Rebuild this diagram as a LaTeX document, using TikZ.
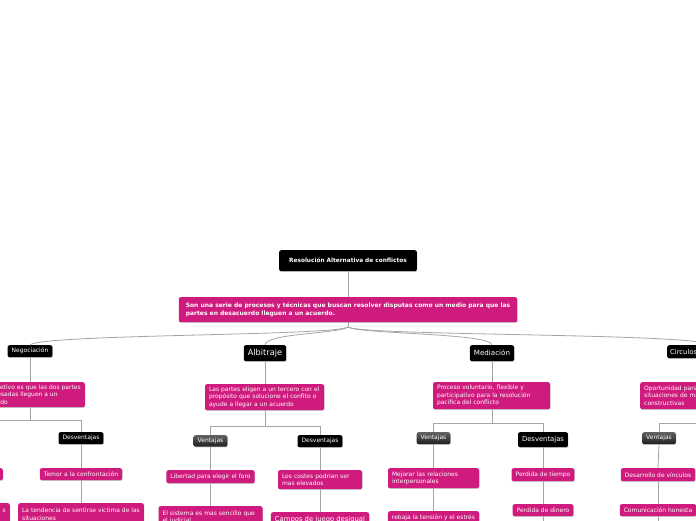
\documentclass[tikz,border=0pt]{standalone}
\usepackage{fontspec}
\setmainfont{DejaVu Sans}
\usetikzlibrary{shadows}
\definecolor{pinkc}{RGB}{206,27,125}
\definecolor{linec}{RGB}{165,165,165}
\newcommand\fpink{\fontsize{6.0}{7.6}\selectfont}
\newcommand\fpinkb{\fontsize{6.0}{8.6}\selectfont\bfseries}
\newcommand\froot{\fontsize{5.8}{7}\selectfont\bfseries}
\newcommand\flab{\fontsize{6.0}{7}\selectfont}
\newcommand\falb{\fontsize{8.2}{9}\selectfont}
\newcommand\fmed{\fontsize{7.1}{8}\selectfont}
\newcommand\fmid{\fontsize{6.8}{8}\selectfont}
\begin{document}
\begin{tikzpicture}[x=1pt,y=-1pt,
  boxbase/.style={rounded corners=2pt, inner xsep=4pt, inner ysep=0pt,
    drop shadow={shadow xshift=0.5pt, shadow yshift=-0.7pt, fill=black, opacity=0.2}},
  pinkbox/.style={boxbase, fill=pinkc, text=white, font=\fpink, align=left, anchor=north},
  blackbox/.style={boxbase, fill=black, text=white, font=\flab, align=center, anchor=north},
  graybox/.style={boxbase, top color=black!62, bottom color=black!88, text=white, font=\flab, align=center, anchor=north},
  conn/.style={draw=linec, line width=0.8pt}]
\useasboundingbox (0,0) rectangle (696,520);
\clip (0,0) rectangle (696,520);
\fill[white] (0,0) rectangle (696,520);

% root and main
\node[blackbox, font=\froot, minimum height=21, inner xsep=10pt] (root) at (348,250) {Resolución Alternativa de conflictos};
\node[pinkbox, font=\fpinkb, minimum height=25, inner xsep=7pt] (main) at (348,297) {Son una serie de procesos y técnicas que buscan resolver disputas como un medio para que las\\partes en desacuerdo lleguen a un acuerdo.};
\draw[conn] (root.south) -- (main.north);
\coordinate (hub) at (348,327);
\draw[conn] (main.south) -- (hub);

% level 1
\node[blackbox, minimum height=12] (neg) at (30,345) {Negociación};
\node[blackbox, font=\falb, minimum height=16] (alb) at (265,345) {Albitraje};
\node[blackbox, font=\fmed, minimum height=16] (med) at (492,345) {Mediación};
\node[blackbox, font=\fmid, minimum height=13, anchor=north west, text width=80, align=left, inner xsep=3pt] (cir) at (667,345) {Circulos};

\draw[conn] (hub) .. controls (335,336) and (40,334) .. (neg.north);
\draw[conn] (hub) .. controls (338,334) and (266,333) .. (alb.north);
\draw[conn] (hub) .. controls (358,334) and (491,333) .. (med.north);
\draw[conn] (hub) .. controls (362,336) and (700,333) .. (cir.north);

% Negociacion
\node[pinkbox, anchor=north east, minimum height=25] (negp) at (85,382) {El objetivo es que las dos partes\\interesadas lleguen a un\\acuerdo};
\draw[conn] (neg.south) -- (neg.south |- negp.north);
\coordinate (negs) at (30,420);
\draw[conn] (neg.south |- negp.south) -- (negs);
\coordinate (negv) at (-30,432);
\node[blackbox, minimum height=12] (negd) at (81,432) {Desventajas};
\draw[conn] (negs) -| (negd.north);
\draw[conn] (negs) -| (negv);
\node[pinkbox, minimum height=12] (negd1) at (81,468) {Temor a la confrontación};
\node[pinkbox, minimum height=22] (negd2) at (81,503) {La tendencia de sentirse victima de las\\situaciones};
\draw[conn] (negd.south) -- (negd1.north);
\draw[conn] (negd1.south) -- (negd2.north);
\node[pinkbox, anchor=north east, minimum height=12, minimum width=60] (negv1) at (3,468) {};
\node[pinkbox, anchor=north east, minimum height=22, text width=72, align=right] (negv2) at (10,503) {s\\~};

% Albitraje
\node[pinkbox, minimum height=26, text width=111] (albp) at (264.5,384) {Las partes eligen a un tercero con el\\propósito que solucione el confito o\\ayude a llegar a un acuerdo};
\draw[conn] (alb.south) -- (alb.south |- albp.north);
\coordinate (albs) at (265,426);
\draw[conn] (alb.south |- albp.south) -- (albs);
\node[graybox, minimum height=11.5] (albv) at (210.5,435) {Ventajas};
\node[blackbox, minimum height=12] (albd) at (320,435) {Desventajas};
\draw[conn] (albs) -| (albv.north);
\draw[conn] (albs) -| (albd.north);
\node[pinkbox, minimum height=13] (albv1) at (210.5,470) {Libertad para elegir el foro};
\node[pinkbox, minimum height=22, text width=96] (albv2) at (210.5,506) {El sistema es mas sencillo que\\el judicial};
\draw[conn] (albv.south) -- (albv1.north);
\draw[conn] (albv1.south) -- (albv2.north);
\node[pinkbox, minimum height=19, text width=76] (albd1) at (320,470) {Los costes podrian ser\\mas elevados};
\node[pinkbox, font=\fmid, minimum height=14] (albd2) at (320,512) {Campos de juego desigual};
\draw[conn] (albd.south) -- (albd1.north);
\draw[conn] (albd1.south) -- (albd2.north);

% Mediacion
\node[pinkbox, minimum height=27, text width=109] (medp) at (491.5,382) {Proceso voluntario, flexible y\\participativo para la resolución\\pacifica del conflicto};
\draw[conn] (med.south) -- (med.south |- medp.north);
\coordinate (meds) at (492,423);
\draw[conn] (med.south |- medp.south) -- (meds);
\node[graybox, minimum height=12] (medv) at (433.5,432) {Ventajas};
\node[blackbox, font=\fmid, minimum height=15] (medd) at (543,432) {Desventajas};
\draw[conn] (meds) -| (medv.north);
\draw[conn] (meds) -| (medd.north);
\node[pinkbox, minimum height=20, text width=83] (medv1) at (433.5,468) {Mejorar las relaciones\\interpersonales};
\node[pinkbox, minimum height=14] (medv2) at (433.5,511) {rebaja la tensión y el estrés};
\draw[conn] (medv.south) -- (medv1.north);
\draw[conn] (medv1.south) -- (medv2.north);
\node[pinkbox, minimum height=13] (medd1) at (543,468) {Perdida de tiempo};
\node[pinkbox, minimum height=12] (medd2) at (543,504) {Perdida de dinero};
\coordinate (meddend) at (543,530);
\draw[conn] (medd.south) -- (medd1.north);
\draw[conn] (medd1.south) -- (medd2.north);
\draw[conn] (medd2.south) -- (meddend);

% Circulos
\node[pinkbox, anchor=north west, minimum height=27, text width=132] (cirp) at (640,382) {Oportunidad para abordar\\situaciones de manera\\constructivas};
\draw[conn] (cir.south) -- (cir.south |- cirp.north);
\coordinate (cirs) at (710,423);
\draw[conn] (cir.south |- cirp.south) -- (cirs);
\node[graybox, minimum height=12] (cirv) at (659,432) {Ventajas};
\draw[conn] (cirs) -| (cirv.north);
\draw[conn] (cirs) -- (760,423);
\node[pinkbox, minimum height=13] (cirv1) at (658,468) {Desarrollo de vínculos};
\node[pinkbox, minimum height=12] (cirv2) at (658,504) {Comunicación honesta};
\coordinate (cirvend) at (658,530);
\draw[conn] (cirv.south) -- (cirv1.north);
\draw[conn] (cirv1.south) -- (cirv2.north);
\draw[conn] (cirv2.south) -- (cirvend);
\end{tikzpicture}
\end{document}
